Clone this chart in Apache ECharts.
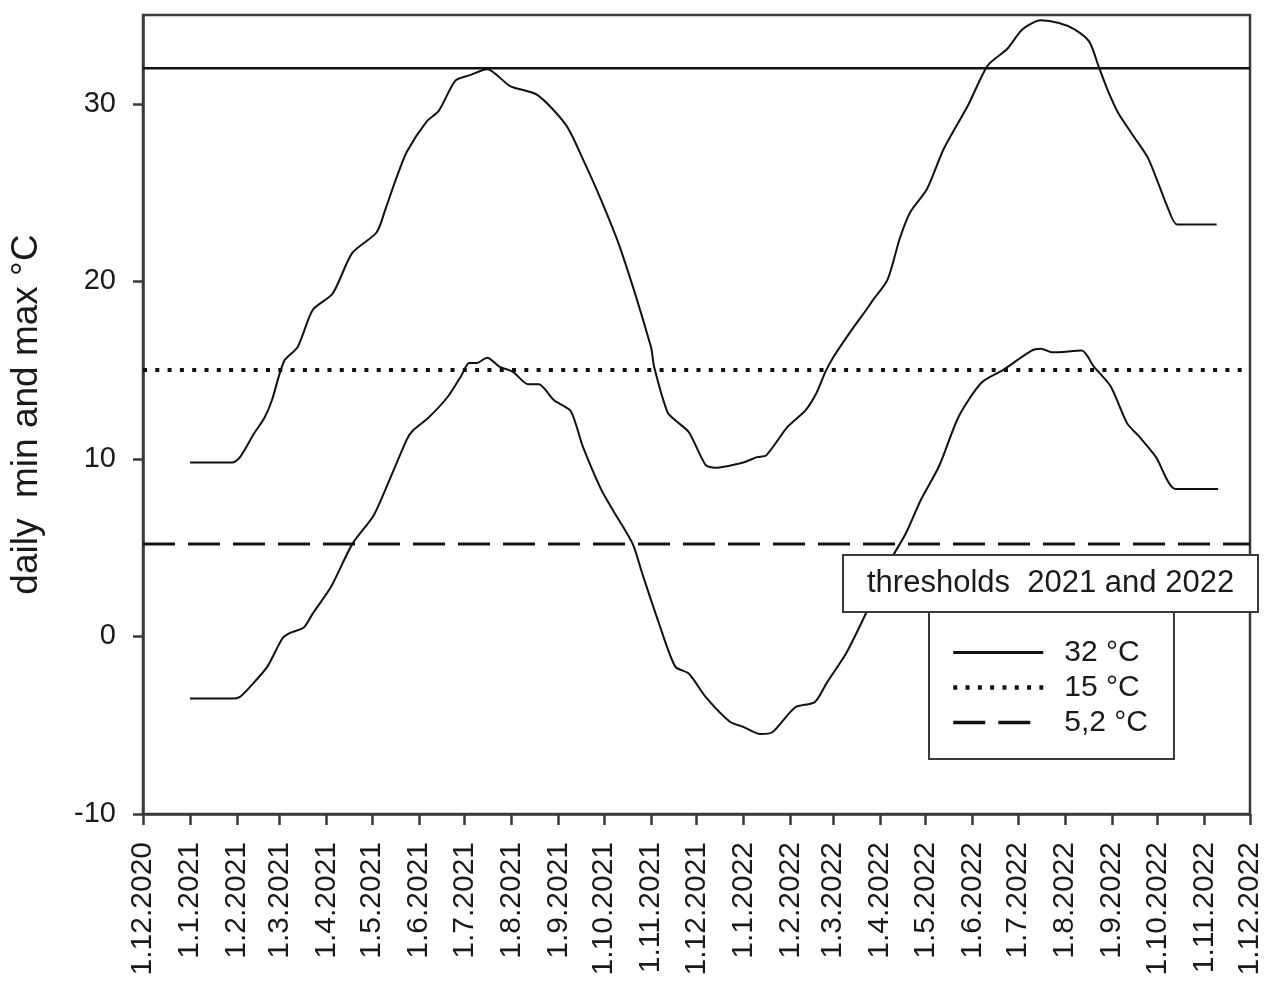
<!DOCTYPE html>
<html>
<head>
<meta charset="utf-8">
<title>Daily min and max temperature</title>
<script src="https://cdn.jsdelivr.net/npm/echarts@6/dist/echarts.min.js"></script>
<style>
  html, body { margin: 0; padding: 0; background: #fff; }
  #chart { width: 1272px; height: 981px; }
</style>
</head>
<body>
<div id="chart"></div>
<script>
// Month-start tick labels along the date axis
const tickLabels = [
  '1.12.2020', '1.1.2021', '1.2.2021', '1.3.2021', '1.4.2021', '1.5.2021', '1.6.2021',
  '1.7.2021', '1.8.2021', '1.9.2021', '1.10.2021', '1.11.2021', '1.12.2021',
  '1.1.2022', '1.2.2022', '1.3.2022', '1.4.2022', '1.5.2022', '1.6.2022',
  '1.7.2022', '1.8.2022', '1.9.2022', '1.10.2022', '1.11.2022', '1.12.2022'
];
const yTicks = [-10, 0, 10, 20, 30];

// Daily maximum temperature (°C)
const maxDates = [
  '2021-01-01', '2021-01-29', '2021-02-03', '2021-02-12', '2021-02-19', '2021-02-24',
  '2021-03-04', '2021-03-13', '2021-03-23', '2021-04-05', '2021-04-18', '2021-05-04',
  '2021-05-10', '2021-05-17', '2021-05-24', '2021-06-06', '2021-06-14', '2021-06-25',
  '2021-07-04', '2021-07-16', '2021-07-31', '2021-08-18', '2021-09-06', '2021-09-17',
  '2021-09-29', '2021-10-12', '2021-11-01', '2021-11-03', '2021-11-12', '2021-11-18',
  '2021-11-26', '2021-12-07', '2021-12-13', '2022-01-01', '2022-01-10', '2022-01-16',
  '2022-01-30', '2022-02-11', '2022-02-18', '2022-02-24', '2022-03-01', '2022-03-12',
  '2022-03-23', '2022-03-27', '2022-04-06', '2022-04-14', '2022-04-21', '2022-05-02',
  '2022-05-13', '2022-05-29', '2022-06-11', '2022-06-24', '2022-07-04', '2022-07-16',
  '2022-07-28', '2022-08-07', '2022-08-17', '2022-08-23', '2022-08-29', '2022-09-05',
  '2022-09-15', '2022-09-25', '2022-10-08', '2022-10-14', '2022-11-09'
];
const maxValues = [
  9.8, 9.8, 10.1, 11.4, 12.3, 13.3,
  15.5, 16.3, 18.4, 19.3, 21.6, 22.75,
  24.1, 25.8, 27.3, 29.0, 29.6, 31.3,
  31.6, 31.95, 31.0, 30.5, 28.8, 26.9,
  24.6, 21.8, 16.3, 15.2, 12.6, 12.1,
  11.5, 9.66, 9.5, 9.8, 10.1, 10.2,
  11.8, 12.75, 13.7, 14.9, 15.7, 17.1,
  18.4, 18.9, 20.1, 22.4, 23.9, 25.2,
  27.45, 29.9, 32.15, 33.1, 34.2, 34.7,
  34.55, 34.2, 33.5, 32.15, 30.8, 29.5,
  28.2, 26.9, 24.1, 23.2, 23.2
];

// Daily minimum temperature (°C)
const minDates = [
  '2021-01-01', '2021-01-29', '2021-02-03', '2021-02-10', '2021-02-21', '2021-03-03',
  '2021-03-08', '2021-03-17', '2021-03-23', '2021-04-04', '2021-04-18', '2021-05-02',
  '2021-05-10', '2021-05-24', '2021-05-28', '2021-06-07', '2021-06-20', '2021-06-29',
  '2021-07-04', '2021-07-09', '2021-07-16', '2021-07-24', '2021-08-02', '2021-08-12',
  '2021-08-19', '2021-08-29', '2021-09-09', '2021-09-17', '2021-09-29', '2021-10-07',
  '2021-10-20', '2021-10-26', '2021-11-06', '2021-11-17', '2021-11-26', '2021-12-07',
  '2021-12-23', '2022-01-01', '2022-01-12', '2022-01-20', '2022-02-04', '2022-02-17',
  '2022-02-25', '2022-03-10', '2022-03-23', '2022-04-08', '2022-04-18', '2022-04-28',
  '2022-05-10', '2022-05-23', '2022-06-07', '2022-06-21', '2022-07-10', '2022-07-16',
  '2022-07-24', '2022-08-12', '2022-08-20', '2022-08-31', '2022-09-11', '2022-09-19',
  '2022-09-30', '2022-10-13', '2022-11-10'
];
const minValues = [
  -3.5, -3.5, -3.4, -2.8, -1.7, -0.1,
  0.2, 0.5, 1.3, 2.8, 5.2, 6.8,
  8.3, 11.1, 11.6, 12.3, 13.5, 14.7,
  15.4, 15.4, 15.7, 15.2, 14.9, 14.2,
  14.2, 13.3, 12.7, 10.7, 8.3, 7.1,
  5.2, 3.6, 0.8, -1.7, -2.1, -3.4,
  -4.8, -5.1, -5.5, -5.4, -4.0, -3.7,
  -2.6, -0.9, 1.35, 4.3, 5.8, 7.7,
  9.6, 12.4, 14.3, 15.0, 16.1, 16.2,
  16.0, 16.1, 15.2, 14.1, 12.0, 11.25,
  10.1, 8.3, 8.3
];

// Temperature thresholds for 2021 and 2022
const thresholdValues = [32, 15, 5.2];
const thresholdNames = ['32 °C', '15 °C', '5,2 °C'];
const thresholdDash = ['solid', [4, 8.3], [32, 13]];
const thresholdWidth = [2.5, 4, 3];

const FONT = '"Liberation Sans", Arial, sans-serif';
const INK = '#1a1a1a';
const FRAME = '#3a3a3a';
const DAY = 86400000;

// Dates are plotted as day numbers (UTC midnight / one day) on a linear axis
function fromIso(s) {
  const [y, m, d] = s.split('-').map(Number);
  return Date.UTC(y, m - 1, d) / DAY;
}
function fromLabel(s) {
  const [d, m, y] = s.split('.').map(Number);
  return Date.UTC(y, m - 1, d) / DAY;
}

const tickDays = tickLabels.map(fromLabel);
const labelByDay = new Map(tickDays.map((t, i) => [t, tickLabels[i]]));
const xMin = tickDays[0];
const xMax = tickDays[tickDays.length - 1];

const curveStyle = { color: '#111', width: 2 };

const series = [
  {
    type: 'line',
    name: 'max',
    data: maxDates.map((d, i) => [fromIso(d), maxValues[i]]),
    symbol: 'none',
    smooth: 0.25,
    lineStyle: curveStyle,
    z: 3
  },
  {
    type: 'line',
    name: 'min',
    data: minDates.map((d, i) => [fromIso(d), minValues[i]]),
    symbol: 'none',
    smooth: 0.25,
    lineStyle: curveStyle,
    z: 3
  }
].concat(thresholdValues.map((v, i) => ({
  type: 'line',
  name: thresholdNames[i],
  data: [[xMin, v], [xMax, v]],
  symbol: 'none',
  silent: true,
  lineStyle: { color: '#111', width: thresholdWidth[i], type: thresholdDash[i] },
  itemStyle: { color: '#111' },
  z: 2
})));

// Legend entries repeat each threshold's line style
const legendItems = thresholdNames.map((name, i) => ({
  name: name,
  itemStyle: { opacity: 0 },
  lineStyle: { color: '#111', width: thresholdWidth[i] + 0.5, type: thresholdDash[i] }
}));

const chart = echarts.init(document.getElementById('chart'), null, { renderer: 'canvas' });

chart.setOption({
  animation: false,
  backgroundColor: '#fff',
  textStyle: { fontFamily: FONT, color: INK },
  grid: {
    left: 142, right: 22, top: 15, bottom: 167,
    show: true, borderColor: FRAME, borderWidth: 2.5, backgroundColor: 'transparent'
  },
  title: {
    text: 'thresholds  2021 and 2022',
    left: 843, top: 555,
    padding: [12, 24, 12, 24],
    backgroundColor: '#fff',
    borderColor: FRAME,
    borderWidth: 2,
    textStyle: { fontFamily: FONT, fontSize: 31, fontWeight: 'normal', color: INK, lineHeight: 33 },
    z: 10
  },
  legend: {
    data: legendItems,
    orient: 'vertical',
    left: 929, top: 612,
    padding: [25, 26, 21, 22],
    itemWidth: 90, itemHeight: 14, itemGap: 4,
    itemStyle: { opacity: 0 },
    backgroundColor: '#fff',
    borderColor: FRAME,
    borderWidth: 2,
    selectedMode: false,
    textStyle: { fontFamily: FONT, fontSize: 30, color: INK, lineHeight: 31, padding: [0, 0, 0, 16] },
    z: 10
  },
  xAxis: {
    type: 'value',
    min: xMin, max: xMax,
    splitLine: { show: false },
    axisLine: { onZero: false, lineStyle: { color: FRAME, width: 2.5 } },
    axisTick: { show: true, length: 11, customValues: tickDays, lineStyle: { color: FRAME, width: 2.5 } },
    axisLabel: {
      customValues: tickDays,
      rotate: 90,
      margin: 28,
      fontFamily: FONT,
      fontSize: 30,
      color: INK,
      formatter: v => labelByDay.get(Math.round(v)) || ''
    }
  },
  yAxis: {
    type: 'value',
    min: -10, max: 35, interval: 10,
    name: 'daily  min and max °C',
    nameLocation: 'middle',
    nameRotate: 90,
    nameGap: 98,
    nameTextStyle: { fontFamily: FONT, fontSize: 37, color: INK },
    splitLine: { show: false },
    axisLine: { show: true, onZero: false, lineStyle: { color: FRAME, width: 2.5 } },
    axisTick: { show: true, length: 10, customValues: yTicks, lineStyle: { color: FRAME, width: 2.5 } },
    axisLabel: { customValues: yTicks, margin: 27, fontFamily: FONT, fontSize: 29, color: INK }
  },
  series: series
});
</script>
</body>
</html>
